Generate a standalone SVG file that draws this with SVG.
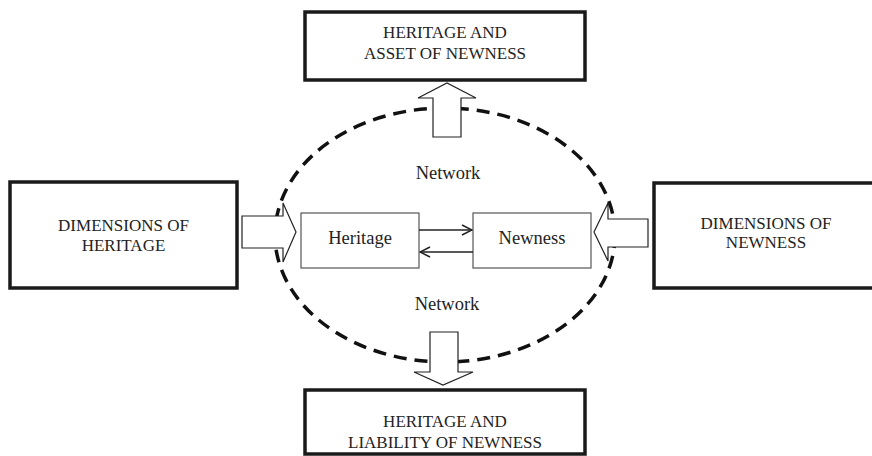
<svg xmlns="http://www.w3.org/2000/svg" width="872" height="456" viewBox="0 0 872 456">
<style>
.big{fill:#fff;stroke:#1a1a1a;stroke-width:3.5}
.small{fill:#fff;stroke:#555;stroke-width:1.2}
.t{font-family:"Liberation Serif","Times New Roman",serif;fill:#222;text-anchor:middle}
.bt{font-size:17px}
.st{font-size:18.5px}
.fat{fill:#fff;stroke:#222;stroke-width:1.2;stroke-linejoin:miter}
.ln{fill:none;stroke:#222;stroke-width:1.5}
</style>
<defs>
<marker id="open" viewBox="0 0 12 12" refX="11" refY="6" markerWidth="12" markerHeight="12" markerUnits="userSpaceOnUse" orient="auto">
<path d="M1,1 L11,6 L1,11" fill="none" stroke="#222" stroke-width="1.5"/>
</marker>
</defs>
<rect width="872" height="456" fill="#fff"/>
<g id="network">
<ellipse cx="445" cy="235" rx="170" ry="127" fill="none" stroke="#111" stroke-width="3.5" stroke-dasharray="13 8"/>
<text class="t st" x="448" y="179">Network</text>
<text class="t st" x="447" y="310">Network</text>
</g>
<g id="top">
<rect class="big" x="305" y="12" width="280" height="68"/>
<text class="t bt" x="445" y="38">HERITAGE AND</text>
<text class="t bt" x="445" y="59">ASSET OF NEWNESS</text>
</g>
<g id="bottom">
<rect class="big" x="305" y="390" width="280" height="64"/>
<text class="t bt" x="445" y="427">HERITAGE AND</text>
<text class="t bt" x="445" y="448">LIABILITY OF NEWNESS</text>
</g>
<g id="left">
<rect class="big" x="10" y="182" width="227" height="106"/>
<text class="t bt" x="123.5" y="231">DIMENSIONS OF</text>
<text class="t bt" x="123.5" y="251">HERITAGE</text>
</g>
<g id="right">
<rect class="big" x="654" y="183" width="230" height="105"/>
<text class="t bt" x="766" y="229">DIMENSIONS OF</text>
<text class="t bt" x="766" y="248">NEWNESS</text>
</g>
<g id="heritage">
<rect class="small" x="301" y="213" width="118" height="55"/>
<text class="t st" x="360" y="244">Heritage</text>
</g>
<g id="newness">
<rect class="small" x="473" y="213" width="118" height="55"/>
<text class="t st" x="532" y="244">Newness</text>
</g>
<g id="connectors">
<path class="fat" d="M433,137 L433,98 L418,98 L447,83 L476,98 L461,98 L461,137 Z"/>
<path class="fat" d="M430,332 L458,332 L458,372 L473,372 L443,385 L414,372 L430,372 Z"/>
<path class="fat" d="M242,216 L283,216 L283,203 L296,232 L283,262 L283,248 L242,248 Z"/>
<path class="fat" d="M648,219 L608,219 L608,203 L594,232 L608,261 L608,247 L648,247 Z"/>
<line class="ln" x1="419" y1="230" x2="472" y2="230" marker-end="url(#open)"/>
<line class="ln" x1="473" y1="252" x2="420" y2="252" marker-end="url(#open)"/>
</g>
</svg>
